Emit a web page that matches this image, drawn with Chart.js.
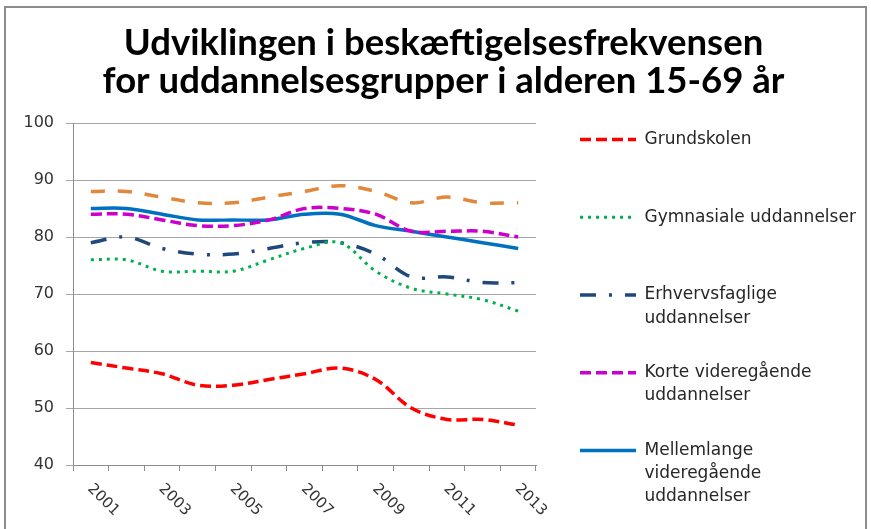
<!DOCTYPE html>
<html lang="da">
  <head>
    <meta charset="UTF-8" />
    <title>Beskæftigelsesfrekvens</title>
    <script src="https://cdn.jsdelivr.net/npm/chart.js@4.4.1/dist/chart.umd.min.js"></script>
    <style>
      html, body { margin: 0; padding: 0; background: #fff; overflow: hidden; }
      #frame {
        position: absolute; left: 4px; top: 6px; width: 863px; height: 523px;
        border: 2px solid #8c8c8c; border-bottom: none; box-sizing: border-box;
      }
      #frame canvas { display: block; }
    </style>
  </head>
  <body>
    <div id="frame"><canvas id="chart"></canvas></div>
    <script>
      // categories (every year) and the years that get a label
      const years = ["2001", "2002", "2003", "2004", "2005", "2006", "2007",
                     "2008", "2009", "2010", "2011", "2012", "2013"];
      const yearTicks = ["2001", "2003", "2005", "2007", "2009", "2011", "2013"];

      // beskæftigelsesfrekvens, pct.
      const grundskolen     = [58, 57, 56, 54, 54, 55, 56, 57, 55, 50, 48, 48, 47];
      const gymnasiale      = [76, 76, 74, 74, 74, 76, 78, 79, 74, 71, 70, 69, 67];
      const erhvervsfaglige = [79, 80, 78, 77, 77, 78, 79, 79, 77, 73, 73, 72, 72];
      const korte           = [84, 84, 83, 82, 82, 83, 85, 85, 84, 81, 81, 81, 80];
      const mellemlange     = [85, 85, 84, 83, 83, 83, 84, 84, 82, 81, 80, 79, 78];
      const lange           = [88, 88, 87, 86, 86, 87, 88, 89, 88, 86, 87, 86, 86];

      // legend names, split the way the legend wraps them
      const seriesNames = [
        ["Grundskolen", "", ""],
        ["Gymnasiale uddannelser", "", ""],
        ["Erhvervsfaglige", "uddannelser", ""],
        ["Korte videregående", "uddannelser", ""],
        ["Mellemlange", "videregående", "uddannelser"],
        ["Lange videregående", "uddannelser", ""],
      ];

      const yTicks = { min: 40, max: 100, step: 10 };

      const line = (i, data, color, width, dash) => ({
        label: seriesNames[i],
        data,
        borderColor: color,
        backgroundColor: color,
        borderWidth: width,
        borderDash: dash,
        pointRadius: 0,
        tension: 0.35,
        fill: false,
      });

      const datasets = [
        line(0, grundskolen, "#ff0000", 3.5, [11, 5]),
        line(1, gymnasiale, "#00b050", 3, [3, 5]),
        line(2, erhvervsfaglige, "#1f497d", 3.5, [16, 13, 3, 13]),
        line(3, korte, "#cc00cc", 3.5, [11, 5]),
        line(4, mellemlange, "#0070c0", 3.5, []),
        line(5, lange, "#e0883c", 3.5, [14, 13]),
      ];

      // x labels run down to the right, which chart.js can't rotate to
      const yearLabels = {
        id: "yearLabels",
        afterDraw(chart) {
          const xs = chart.scales.x;
          const ctx = chart.ctx;
          ctx.save();
          ctx.font = '15px "DejaVu Sans"';
          ctx.fillStyle = "#333";
          ctx.textAlign = "left";
          ctx.textBaseline = "middle";
          yearTicks.forEach((lbl) => {
            const px = xs.getPixelForValue(years.indexOf(lbl));
            ctx.save();
            ctx.translate(px - 1, xs.top + 21.5);
            ctx.rotate(Math.PI / 4);
            ctx.fillText(lbl, 0, 0);
            ctx.restore();
          });
          ctx.restore();
        },
      };

      new Chart(document.getElementById("chart"), {
        type: "line",
        data: { labels: years, datasets },
        options: {
          responsive: true,
          maintainAspectRatio: false,
          animation: false,
          events: [],
          layout: { padding: { left: 16, right: 0, top: 0, bottom: 0 } },
          scales: {
            x: {
              offset: true,
              grid: {
                offset: true, drawOnChartArea: false, drawTicks: true,
                tickLength: 6, color: "#8c8c8c",
              },
              border: { color: "#8c8c8c" },
              ticks: { display: false },
              afterFit: (s) => { s.height = 64; },
            },
            y: {
              min: yTicks.min,
              max: yTicks.max,
              ticks: {
                stepSize: yTicks.step, padding: 12, color: "#333",
                font: { family: "DejaVu Sans", size: 16 },
              },
              grid: { color: "#a6a6a6", tickLength: 7 },
              border: { color: "#8c8c8c" },
              afterFit: (s) => { s.width = 51; },
            },
            gap: {
              type: "linear", axis: "y", position: "right", display: true,
              grid: { display: false }, border: { display: false },
              ticks: { display: false },
              afterFit: (s) => { s.width = 36; },
            },
          },
          plugins: {
            title: {
              display: true,
              text: ["Udviklingen i beskæftigelsesfrekvensen",
                     "for uddannelsesgrupper i alderen 15-69 år"],
              color: "#000",
              font: { family: "Lato", size: 36.5, weight: "bold", lineHeight: "38px" },
              padding: { top: 16, bottom: 23 },
            },
            legend: {
              position: "right",
              align: "start",
              fullSize: true,
              maxWidth: 293,
              // empty title only pushes the entries down below the chart title
              title: {
                display: true,
                text: " ",
                font: { size: 1, lineHeight: "1px" },
                padding: { top: 114, bottom: 0 },
              },
              labels: {
                usePointStyle: true,
                pointStyle: "line",
                pointStyleWidth: 56,
                padding: 8,
                color: "#262626",
                font: { family: "DejaVu Sans", size: 17, lineHeight: "23.25px" },
                generateLabels: (chart) =>
                  chart.data.datasets
                    .map((ds, i) => ({
                      text: ds.label,
                      strokeStyle: ds.borderColor,
                      fillStyle: ds.borderColor,
                      lineWidth: ds.borderWidth,
                      lineDash: ds.borderDash,
                      lineCap: "butt",
                      pointStyle: "line",
                      fontColor: "#262626",
                      hidden: false,
                      datasetIndex: i,
                    }))
                    .filter((item) => item.datasetIndex < 5), // 6th entry is cut off in the original
              },
            },
            tooltip: { enabled: false },
          },
        },
        plugins: [yearLabels],
      });
    </script>
  </body>
</html>
